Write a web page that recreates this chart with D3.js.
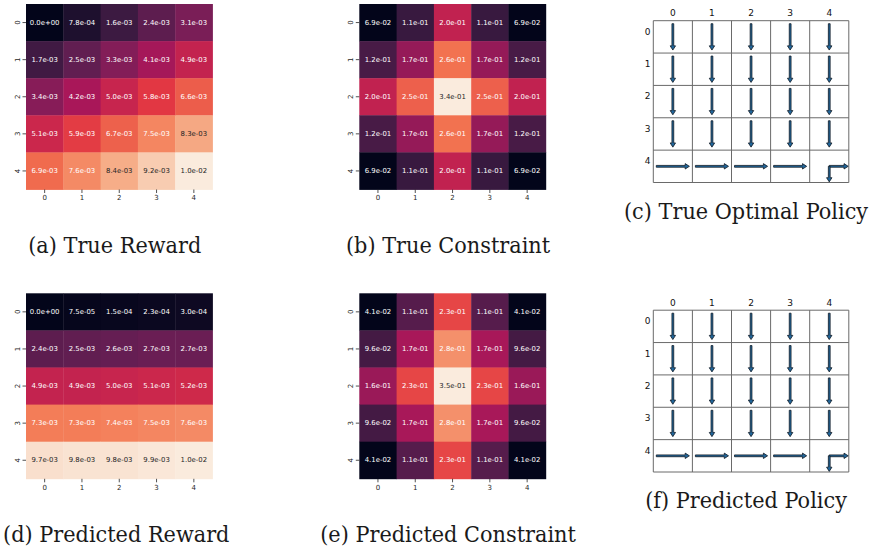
<!DOCTYPE html>
<html><head><meta charset="utf-8">
<script src="https://cdn.jsdelivr.net/npm/d3@7"></script>
<style>body{margin:0;background:#fff}svg{display:block}</style>
</head><body><svg id="fig" width="878" height="554"></svg>
<script>
// ---------------- data ----------------
const gridIdx = [0, 1, 2, 3, 4];
const tickLabels = ["0", "1", "2", "3", "4"];

const trueReward = [
  [0.0e+00, 7.8e-04, 1.6e-03, 2.4e-03, 3.1e-03],
  [1.7e-03, 2.5e-03, 3.3e-03, 4.1e-03, 4.9e-03],
  [3.4e-03, 4.2e-03, 5.0e-03, 5.8e-03, 6.6e-03],
  [5.1e-03, 5.9e-03, 6.7e-03, 7.5e-03, 8.3e-03],
  [6.9e-03, 7.6e-03, 8.4e-03, 9.2e-03, 1.0e-02]
];
const trueConstraint = [
  [6.9e-02, 1.1e-01, 2.0e-01, 1.1e-01, 6.9e-02],
  [1.2e-01, 1.7e-01, 2.6e-01, 1.7e-01, 1.2e-01],
  [2.0e-01, 2.5e-01, 3.4e-01, 2.5e-01, 2.0e-01],
  [1.2e-01, 1.7e-01, 2.6e-01, 1.7e-01, 1.2e-01],
  [6.9e-02, 1.1e-01, 2.0e-01, 1.1e-01, 6.9e-02]
];
const predReward = [
  [0.0e+00, 7.5e-05, 1.5e-04, 2.3e-04, 3.0e-04],
  [2.4e-03, 2.5e-03, 2.6e-03, 2.7e-03, 2.7e-03],
  [4.9e-03, 4.9e-03, 5.0e-03, 5.1e-03, 5.2e-03],
  [7.3e-03, 7.3e-03, 7.4e-03, 7.5e-03, 7.6e-03],
  [9.7e-03, 9.8e-03, 9.8e-03, 9.9e-03, 1.0e-02]
];
const predConstraint = [
  [4.1e-02, 1.1e-01, 2.3e-01, 1.1e-01, 4.1e-02],
  [9.6e-02, 1.7e-01, 2.8e-01, 1.7e-01, 9.6e-02],
  [1.6e-01, 2.3e-01, 3.5e-01, 2.3e-01, 1.6e-01],
  [9.6e-02, 1.7e-01, 2.8e-01, 1.7e-01, 9.6e-02],
  [4.1e-02, 1.1e-01, 2.3e-01, 1.1e-01, 4.1e-02]
];
// policy actions per cell: D = down, R = right
const truePolicy = [
  ["D", "D", "D", "D", "D"],
  ["D", "D", "D", "D", "D"],
  ["D", "D", "D", "D", "D"],
  ["D", "D", "D", "D", "D"],
  ["R", "R", "R", "R", "RD"]
];
const predPolicy = [
  ["D", "D", "D", "D", "D"],
  ["D", "D", "D", "D", "D"],
  ["D", "D", "D", "D", "D"],
  ["D", "D", "D", "D", "D"],
  ["R", "R", "R", "R", "RD"]
];
const captions = ["(a) True Reward", "(b) True Constraint", "(c) True Optimal Policy",
                  "(d) Predicted Reward", "(e) Predicted Constraint", "(f) Predicted Policy"];

// ---------------- helpers ----------------
const rocketStops = ["#03051a", "#35193e", "#701f57", "#ad1759", "#e13342", "#f37651", "#f6b48f", "#faebdd"];
const rocket = d3.piecewise(d3.interpolateRgb, rocketStops);

function fmtSci(v) {
  const s = v.toExponential(1);
  const m = s.match(/^(.*)e([+-])(\d+)$/);
  return m[1] + "e" + m[2] + (m[3].length < 2 ? "0" + m[3] : m[3]);
}
function luminance(c) {
  const rgb = d3.rgb(c);
  const lin = u => { u /= 255; return u <= 0.03928 ? u / 12.92 : Math.pow((u + 0.055) / 1.055, 2.4); };
  return 0.2126 * lin(rgb.r) + 0.7152 * lin(rgb.g) + 0.0722 * lin(rgb.b);
}

const svg = d3.select("#fig");

function heatmap(data, x0, y0, w, h) {
  const g = svg.append("g");
  const x = d3.scaleBand().domain(gridIdx).range([x0, x0 + w]);
  const y = d3.scaleBand().domain(gridIdx).range([y0, y0 + h]);
  const flat = data.flatMap((row, i) => row.map((v, j) => ({ i, j, v })));
  const color = d3.scaleSequential(rocket).domain(d3.extent(flat, d => d.v));

  g.selectAll("rect").data(flat).join("rect")
    .attr("x", d => x(d.j)).attr("y", d => y(d.i))
    .attr("width", x.bandwidth() + 0.4).attr("height", y.bandwidth() + 0.4)
    .attr("fill", d => color(d.v));

  g.selectAll("text.ann").data(flat).join("text").attr("class", "ann")
    .attr("x", d => x(d.j) + x.bandwidth() / 2)
    .attr("y", d => y(d.i) + y.bandwidth() / 2)
    .attr("text-anchor", "middle").attr("dominant-baseline", "central")
    .attr("font-family", "DejaVu Sans").attr("font-size", 6.9)
    .attr("fill", d => luminance(color(d.v)) > 0.408 ? "#262626" : "#ffffff")
    .text(d => fmtSci(d.v));

  const ax = g.append("g").attr("transform", `translate(0,${y0 + h})`)
    .call(d3.axisBottom(x).tickSize(3.5).tickSizeOuter(0).tickPadding(2.4).tickFormat(i => tickLabels[i]));
  ax.select(".domain").remove();
  ax.selectAll("line").attr("stroke", "#262626").attr("stroke-width", 0.8);
  ax.selectAll("text").attr("font-family", "DejaVu Sans").attr("font-size", 7).attr("fill", "#262626");

  const ay = g.append("g").attr("transform", `translate(${x0},0)`)
    .call(d3.axisLeft(y).tickSize(3.5).tickSizeOuter(0).tickFormat(i => tickLabels[i]));
  ay.select(".domain").remove();
  ay.selectAll("line").attr("stroke", "#262626").attr("stroke-width", 0.8);
  ay.selectAll("text").attr("font-family", "DejaVu Sans").attr("font-size", 7).attr("fill", "#262626")
    .attr("x", null).attr("dy", null).attr("text-anchor", "middle")
    .attr("transform", "translate(-6.2,0) rotate(-90)");
}

const dirs = { D: [0, 1], U: [0, -1], R: [1, 0], L: [-1, 0] };
function arrowPath(L) {
  const hw = 0.9, HW = 2.7, hl = 4.2;
  return `M0,${-hw}L${L - hl},${-hw}L${L - hl},${-HW}L${L},0L${L - hl},${HW}L${L - hl},${hw}L0,${hw}Z`;
}

function policy(data, x0, y0, w, h) {
  const g = svg.append("g");
  const x = d3.scaleBand().domain(gridIdx).range([x0, x0 + w]);
  const y = d3.scaleBand().domain(gridIdx).range([y0, y0 + h]);
  const cw = x.bandwidth(), ch = y.bandwidth();
  const edgesX = gridIdx.map(k => x(k)).concat([x0 + w]);
  const edgesY = gridIdx.map(k => y(k)).concat([y0 + h]);

  g.selectAll("line.v").data(edgesX).join("line").attr("class", "v")
    .attr("x1", d => d).attr("x2", d => d).attr("y1", y0).attr("y2", y0 + h)
    .attr("stroke", "#6a6a6a").attr("stroke-width", 1);
  g.selectAll("line.h").data(edgesY).join("line").attr("class", "h")
    .attr("y1", d => d).attr("y2", d => d).attr("x1", x0).attr("x2", x0 + w)
    .attr("stroke", "#6a6a6a").attr("stroke-width", 1);

  g.selectAll("text.col").data(gridIdx).join("text").attr("class", "col")
    .attr("x", k => x(k) + cw / 2).attr("y", y0 - 7.4)
    .attr("text-anchor", "middle").attr("dominant-baseline", "central")
    .attr("font-family", "DejaVu Sans").attr("font-size", 9).attr("fill", "#111")
    .text(k => tickLabels[k]);
  g.selectAll("text.row").data(gridIdx).join("text").attr("class", "row")
    .attr("x", x0 - 5.6).attr("y", k => y(k) + 11)
    .attr("text-anchor", "middle").attr("dominant-baseline", "central")
    .attr("font-family", "DejaVu Sans").attr("font-size", 9).attr("fill", "#111")
    .text(k => tickLabels[k]);

  const arrows = [];
  data.forEach((row, i) => row.forEach((acts, j) => {
    const cx = x(j) + cw / 2, cy = y(i) + ch / 2;
    const list = acts.split("");
    list.forEach(a => {
      const [dx, dy] = dirs[a];
      const span = dx !== 0 ? cw : ch;
      let sx, sy, L;
      if (list.length === 1) {
        L = span - 6;
        sx = cx - dx * L / 2; sy = cy - dy * L / 2;
      } else {
        L = span / 2 - 0.6;
        sx = cx; sy = cy;
      }
      const ang = Math.atan2(dy, dx) * 180 / Math.PI;
      arrows.push({ sx, sy, L, ang });
    });
  }));
  g.selectAll("path.arrow").data(arrows).join("path").attr("class", "arrow")
    .attr("d", d => arrowPath(d.L))
    .attr("transform", d => `translate(${d.sx},${d.sy}) rotate(${d.ang})`)
    .attr("fill", "#21679c").attr("stroke", "#111a24").attr("stroke-width", 0.8)
    .attr("stroke-linejoin", "miter");
}

function caption(text, cx, baseline) {
  svg.append("g").attr("transform", `translate(${cx},${baseline}) scale(0.97,1)`)
    .append("text").attr("text-anchor", "middle")
    .style("font-family", "'DejaVu Serif', serif")
    .attr("font-size", 21.5).attr("fill", "#1a1a1a")
    .text(text);
}

// ---------------- layout ----------------
const hmW = 186.5, hmH = 185.5;
const colA = 26, colB = 359.3, rowTop = 4, rowBot = 293.3;
heatmap(trueReward, colA, rowTop, hmW, hmH);
heatmap(trueConstraint, colB, rowTop, hmW, hmH);
heatmap(predReward, colA, rowBot, hmW, hmH);
heatmap(predConstraint, colB, rowBot, hmW, hmH);

const polX = 653.3, polW = 195.5, polH = 161.8;
policy(truePolicy, polX, 20.7, polW, polH);
policy(predPolicy, polX, 310.2, polW, polH);

caption(captions[0], colA + hmW / 2 - 4.5, 253);
caption(captions[1], colB + hmW / 2 - 4.5, 253);
caption(captions[2], polX + polW / 2 - 5, 218.5);
caption(captions[3], colA + hmW / 2 - 3, 542);
caption(captions[4], colB + hmW / 2 - 4.5, 542);
caption(captions[5], polX + polW / 2 - 5, 508);
</script>
</body></html>
